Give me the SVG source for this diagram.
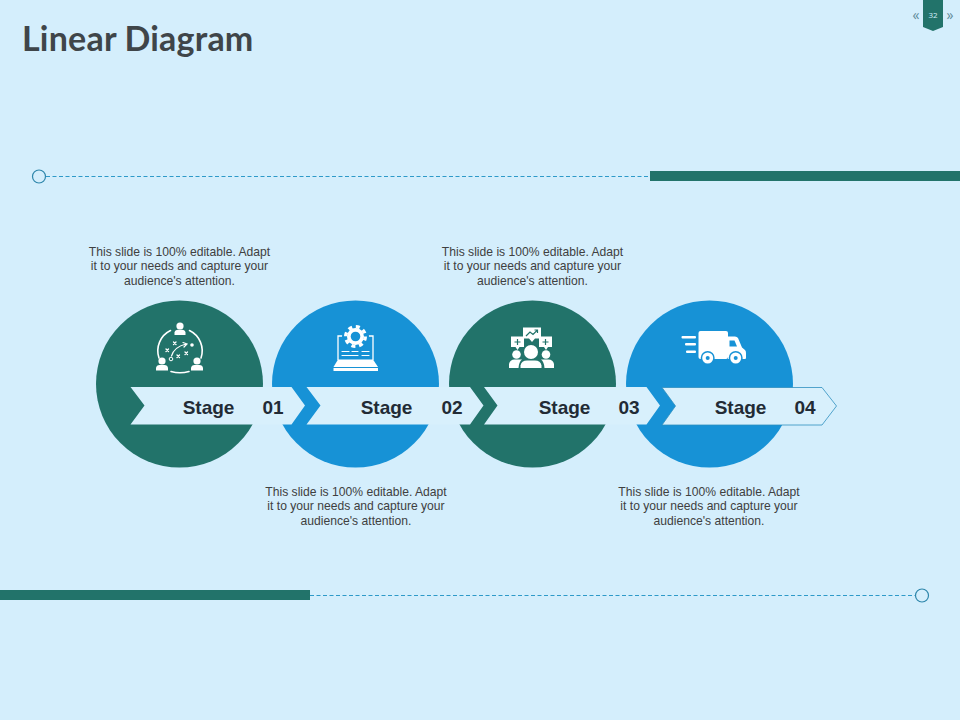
<svg xmlns="http://www.w3.org/2000/svg" width="960" height="720" viewBox="0 0 960 720">
<style>
.teal{fill:#22736A}
.blue{fill:#1792D6}
.arrow{fill:#D8F0FC}
.stage{font-family:"Liberation Sans",Arial,sans-serif;font-weight:700;font-size:19px;fill:#222B35;text-anchor:middle}
.note{font-family:"Liberation Sans",Arial,sans-serif;font-size:12.13px;fill:#404040;text-anchor:middle}
.dash{stroke:#2E9AC9;stroke-width:1;stroke-dasharray:4 2.5;fill:none}
.ring{fill:none;stroke:#2E86AB;stroke-width:1.2}
.w{fill:#fff}
.wl{fill:none;stroke:#fff;stroke-linecap:round}
</style>
<rect width="960" height="720" fill="#D4EEFC"/>
<text x="22" y="51" font-family="Lato,sans-serif" font-weight="700" font-size="34" letter-spacing="0.2" fill="#3F4549">Linear Diagram</text>
<g id="page-badge">
<path d="M923 0H943V27L933 31L923 27Z" class="teal"/>
<text x="933" y="18" font-family="'Open Sans',sans-serif" font-size="8" fill="#D4EEFC" text-anchor="middle">32</text>
<text x="916" y="20" font-family="'Open Sans',sans-serif" font-size="14" fill="#5F8A99" text-anchor="middle">«</text>
<text x="950" y="20" font-family="'Open Sans',sans-serif" font-size="14" fill="#5F8A99" text-anchor="middle">»</text>
</g>
<g id="connectors">
<line class="dash" x1="46" y1="176.500" x2="650" y2="176.500"/>
<line class="dash" x1="310" y1="595.500" x2="915" y2="595.500"/>
</g>
<g id="rule-top">
<circle class="ring" cx="39" cy="176.500" r="6.500"/>
<rect class="teal" x="650" y="171" width="310" height="10"/>
</g>
<g id="rule-bottom">
<rect class="teal" x="0" y="590" width="310" height="10"/>
<circle class="ring" cx="922" cy="595.500" r="6.500"/>
</g>
<g id="stage-1-disc"><circle class="teal" cx="179.500" cy="384" r="83.500"/></g>
<g id="stage-2-disc"><circle class="blue" cx="355.500" cy="384" r="83.500"/></g>
<g id="stage-3-disc"><circle class="teal" cx="532.500" cy="384" r="83.500"/></g>
<g id="stage-4-disc"><circle class="blue" cx="709.500" cy="384" r="83.500"/></g>
<g id="stage-1">
<path class="arrow" d="M130.500 387H291.500L305 405.500L291.500 424.500H130.500L144.500 405.500Z"/>
<text class="stage" x="208.500" y="413.500">Stage</text>
<text class="stage" x="273" y="413.500">01</text>
<g id="icon-1">
<circle class="w" cx="180" cy="326" r="3.600"/>
<path class="w" d="M174.500 335V332.500Q175 329.800 178 329.800H182Q185 329.800 185.500 332.500V335Z"/>
<circle class="w" cx="162" cy="361" r="3.600"/>
<path class="w" d="M156 370.500V368Q156.500 365 159.500 365H164.500Q167.500 365 168 368V370.500Z"/>
<circle class="w" cx="197" cy="361" r="3.600"/>
<path class="w" d="M191 370.500V368Q191.500 365 194.500 365H199.500Q202.500 365 203 368V370.500Z"/>
<path class="wl" stroke-width="1.600" d="M170.500 330.500A22.500 22.500 0 0 0 159 358"/>
<path class="wl" stroke-width="1.600" d="M189.500 330.500A22.500 22.500 0 0 1 201 358"/>
<path class="wl" stroke-width="1.600" d="M171 371.500Q180 374 189 371.500"/>
<path class="wl" stroke-width="1.200" d="M171.500 356Q174 347 186 344M183 342.500L187 344L184 347"/>
<circle cx="171" cy="359" r="1.800" fill="none" stroke="#fff" stroke-width="1"/>
<circle class="w" cx="192" cy="345" r="1.800"/>
<path class="wl" stroke-width="1.300" d="M173.500 342L176 344.500M176 342L173.500 344.500M166 349L168.500 351.500M168.500 349L166 351.500M177 355L179.500 357.500M179.500 355L177 357.500M185 352L187.500 354.500M187.500 352L185 354.500"/>
</g>
</g>
<g id="stage-2">
<path class="arrow" d="M306.500 387H470L483.500 405.500L470 424.500H306.500L320.500 405.500Z"/>
<text class="stage" x="386.500" y="413.500">Stage</text>
<text class="stage" x="452" y="413.500">02</text>
<g id="icon-2">
<path d="M338 360V336H373V360" fill="none" stroke="#fff" stroke-width="1.300"/>
<circle cx="355.500" cy="336.500" r="13.500" class="blue"/>
<circle cx="355.500" cy="336.500" r="8.500" class="w"/>
<circle cx="355.500" cy="336.500" r="9.800" fill="none" stroke="#fff" stroke-width="3.400" stroke-dasharray="4 3.700"/>
<circle cx="355.500" cy="336.500" r="4.800" class="blue"/>
<path class="wl" stroke-width="1.200" stroke-linecap="butt" d="M342 351.500H349M352 351.500H358M362 351.500H369M342 355.500H358M362 355.500H369"/>
<path class="w" d="M338 359.500H373L378 367H333.500Z"/>
<rect class="w" x="333.500" y="368" width="44.500" height="3"/>
</g>
</g>
<g id="stage-3">
<path class="arrow" d="M484 387H646.500L660 405.500L646.500 424.500H484L497.500 405.500Z"/>
<text class="stage" x="564.500" y="413.500">Stage</text>
<text class="stage" x="629" y="413.500">03</text>
<g id="icon-3">
<path class="w" d="M523 327.500H541V338.500H535L532 342L529 338.500H523Z"/>
<path fill="none" stroke="#22736A" stroke-width="1.200" d="M526 336L530 332L533 334.500L537.500 330M534.500 330H537.500V333"/>
<path class="w" d="M511 336.500H524V347H519.500L517.500 350L515.500 347H511Z"/>
<path fill="none" stroke="#22736A" stroke-width="1.200" d="M517.500 339V345M514.500 342H520.500"/>
<path class="w" d="M539 336.500H552V347H548L546 350L544 347H539Z"/>
<path fill="none" stroke="#22736A" stroke-width="1.200" d="M545.500 339V345M542.500 342H548.500"/>
<circle cx="531" cy="352" r="8.200" class="teal"/>
<circle class="w" cx="531" cy="352" r="7"/>
<path class="w" d="M520.500 368V365.500Q521.500 360.500 527 360.500H535Q540.500 360.500 541.500 365.500V368Z"/>
<circle class="w" cx="516.500" cy="354.500" r="4.300"/>
<path class="w" d="M509 368V364Q510 359.500 514.500 359.500H522Q519 361.500 518.500 368Z"/>
<circle class="w" cx="546" cy="354.500" r="4.300"/>
<path class="w" d="M554 368V364Q553 359.500 548.500 359.500H541Q544 361.500 544.500 368Z"/>
</g>
</g>
<g id="stage-4">
<path class="arrow" stroke="#2E8FBF" stroke-width="0.800" d="M662 387.500H822L836.500 406L822 425H662L675.500 406Z"/>
<text class="stage" x="740.500" y="413.500">Stage</text>
<text class="stage" x="805" y="413.500">04</text>
<g id="icon-4">
<rect class="w" x="698.500" y="331" width="29.500" height="28" rx="2"/>
<path class="w" d="M728 336.500H735Q737 336.500 738 338L742 347.500L745 350Q746 351 746 353V358Q746 359 745 359H728Z"/>
<path class="blue" d="M729.500 340.500H734.500L737 346.500H729.500Z"/>
<circle class="blue" cx="707.700" cy="358" r="7"/>
<circle class="w" cx="707.700" cy="358" r="5.500"/>
<circle class="blue" cx="707.700" cy="358" r="2"/>
<circle class="blue" cx="735.700" cy="358" r="7"/>
<circle class="w" cx="735.700" cy="358" r="5.500"/>
<circle class="blue" cx="735.700" cy="358" r="2"/>
<rect class="w" x="681.500" y="336" width="14.500" height="2.500" rx="1"/>
<rect class="w" x="685" y="343" width="11" height="2.500" rx="1"/>
<rect class="w" x="686" y="350.500" width="10" height="2.500" rx="1"/>
</g>
</g>
<g id="note-1"><text class="note" x="179.500" y="256">This slide is 100% editable. Adapt</text><text class="note" x="179.500" y="270">it to your needs and capture your</text><text class="note" x="179.500" y="285">audience's attention.</text></g>
<g id="note-2"><text class="note" x="356" y="496">This slide is 100% editable. Adapt</text><text class="note" x="356" y="510">it to your needs and capture your</text><text class="note" x="356" y="525">audience's attention.</text></g>
<g id="note-3"><text class="note" x="532.500" y="256">This slide is 100% editable. Adapt</text><text class="note" x="532.500" y="270">it to your needs and capture your</text><text class="note" x="532.500" y="285">audience's attention.</text></g>
<g id="note-4"><text class="note" x="709" y="496">This slide is 100% editable. Adapt</text><text class="note" x="709" y="510">it to your needs and capture your</text><text class="note" x="709" y="525">audience's attention.</text></g>
</svg>
